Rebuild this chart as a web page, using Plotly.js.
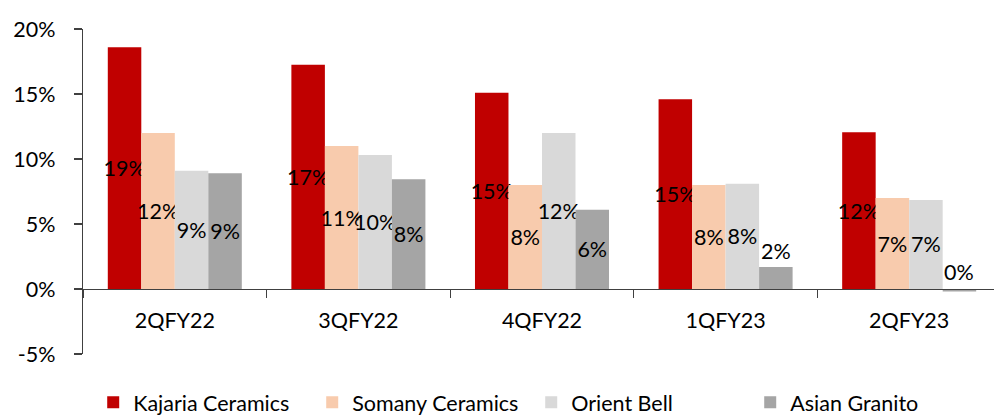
<!DOCTYPE html>
<html>
<head>
<meta charset="utf-8">
<script src="https://cdn.plot.ly/plotly-3.0.1.min.js"></script>
<style>html,body{margin:0;padding:0;background:#fff;}#chart{width:994px;height:419px;}</style>
</head>
<body>
<div id="chart"></div>
<script>
const categories = ['2QFY22', '3QFY22', '4QFY22', '1QFY23', '2QFY23'];
const kajaria = [18.6, 17.25, 15.1, 14.6, 12.05];
const somany = [12.0, 11.0, 8.0, 8.0, 7.0];
const orient = [9.1, 10.3, 12.0, 8.1, 6.85];
const asian = [8.9, 8.45, 6.1, 1.7, -0.2];
const seriesNames = ['Kajaria Ceramics', 'Somany Ceramics', 'Orient Bell', 'Asian Granito'];
const colors = ['#C00000', '#F8CBAD', '#D9D9D9', '#A5A5A5'];
const yTickVals = [-5, 0, 5, 10, 15, 20];
const yTickText = yTickVals.map(v => v + '%');

const FONT = 'Lato, "Noto Sans", sans-serif';
const FS = 21.5;
const label = v => Math.round(v) + '%';
const BARGAP = 0.27;

const allSeries = [kajaria, somany, orient, asian];
const traces = allSeries.map((vals, i) => {
  const pos = vals.map(v => (v < 0 ? 'none' : (v < 3 ? 'outside' : 'inside')));
  return {
    type: 'bar',
    name: seriesNames[i],
    x: categories,
    y: vals,
    text: vals.map(label),
    textposition: pos,
    textangle: 0,
    insidetextanchor: 'middle',
    constraintext: 'none',
    cliponaxis: false,
    textfont: {family: FONT, size: FS, color: '#000'},
    insidetextfont: {family: FONT, size: FS, color: '#000'},
    outsidetextfont: {family: FONT, size: FS, color: '#000'},
    marker: {color: colors[i], line: {width: 0}},
    hoverinfo: 'skip'
  };
});

// labels of negative bars, drawn just above the zero line
const nS = allSeries.length;
const barW = (1 - BARGAP) / nS;
const annotations = [];
allSeries.forEach((vals, i) => {
  vals.forEach((v, j) => {
    if (v < 0) {
      annotations.push({
        x: j + (i - (nS - 1) / 2) * barW, y: 0, xref: 'x', yref: 'y',
        text: label(v), showarrow: false, yanchor: 'bottom', yshift: 2,
        font: {family: FONT, size: FS, color: '#000'}
      });
    }
  });
});

const layout = {
  width: 994, height: 419,
  margin: {l: 83, r: 0, t: 28.5, b: 65, pad: 0, autoexpand: false},
  paper_bgcolor: '#fff', plot_bgcolor: '#fff',
  barmode: 'group', bargap: BARGAP, bargroupgap: 0,
  font: {family: FONT, size: FS, color: '#000'},
  showlegend: true,
  legend: {orientation: 'h', x: 0.492, xanchor: 'center', yref: 'container', y: 0.04, yanchor: 'middle',
    font: {family: FONT, size: FS, color: '#000'}, traceorder: 'normal',
    entrywidth: 174, entrywidthmode: 'pixels'},
  xaxis: {
    type: 'category', range: [-0.5, 4.462], anchor: 'free', position: 0.2,
    showline: true, linecolor: '#404040', linewidth: 1.3,
    ticks: 'outside', tickson: 'boundaries', ticklen: 8, tickcolor: '#404040', tickwidth: 1.3,
    ticklabelstandoff: 12, showgrid: false, zeroline: false, automargin: false,
    tickfont: {family: FONT, size: FS, color: '#000'}
  },
  yaxis: {
    range: [-5, 20], tickmode: 'array', tickvals: yTickVals, ticktext: yTickText,
    showline: true, linecolor: '#404040', linewidth: 1.3,
    ticks: 'outside', ticklen: 8, tickcolor: '#404040', tickwidth: 1.3,
    ticklabelstandoff: 14, showgrid: false, zeroline: false, automargin: false,
    tickfont: {family: FONT, size: FS, color: '#000'}
  },
  annotations: annotations
};

Plotly.newPlot('chart', traces, layout, {displayModeBar: false, staticPlot: true});
</script>
</body>
</html>
